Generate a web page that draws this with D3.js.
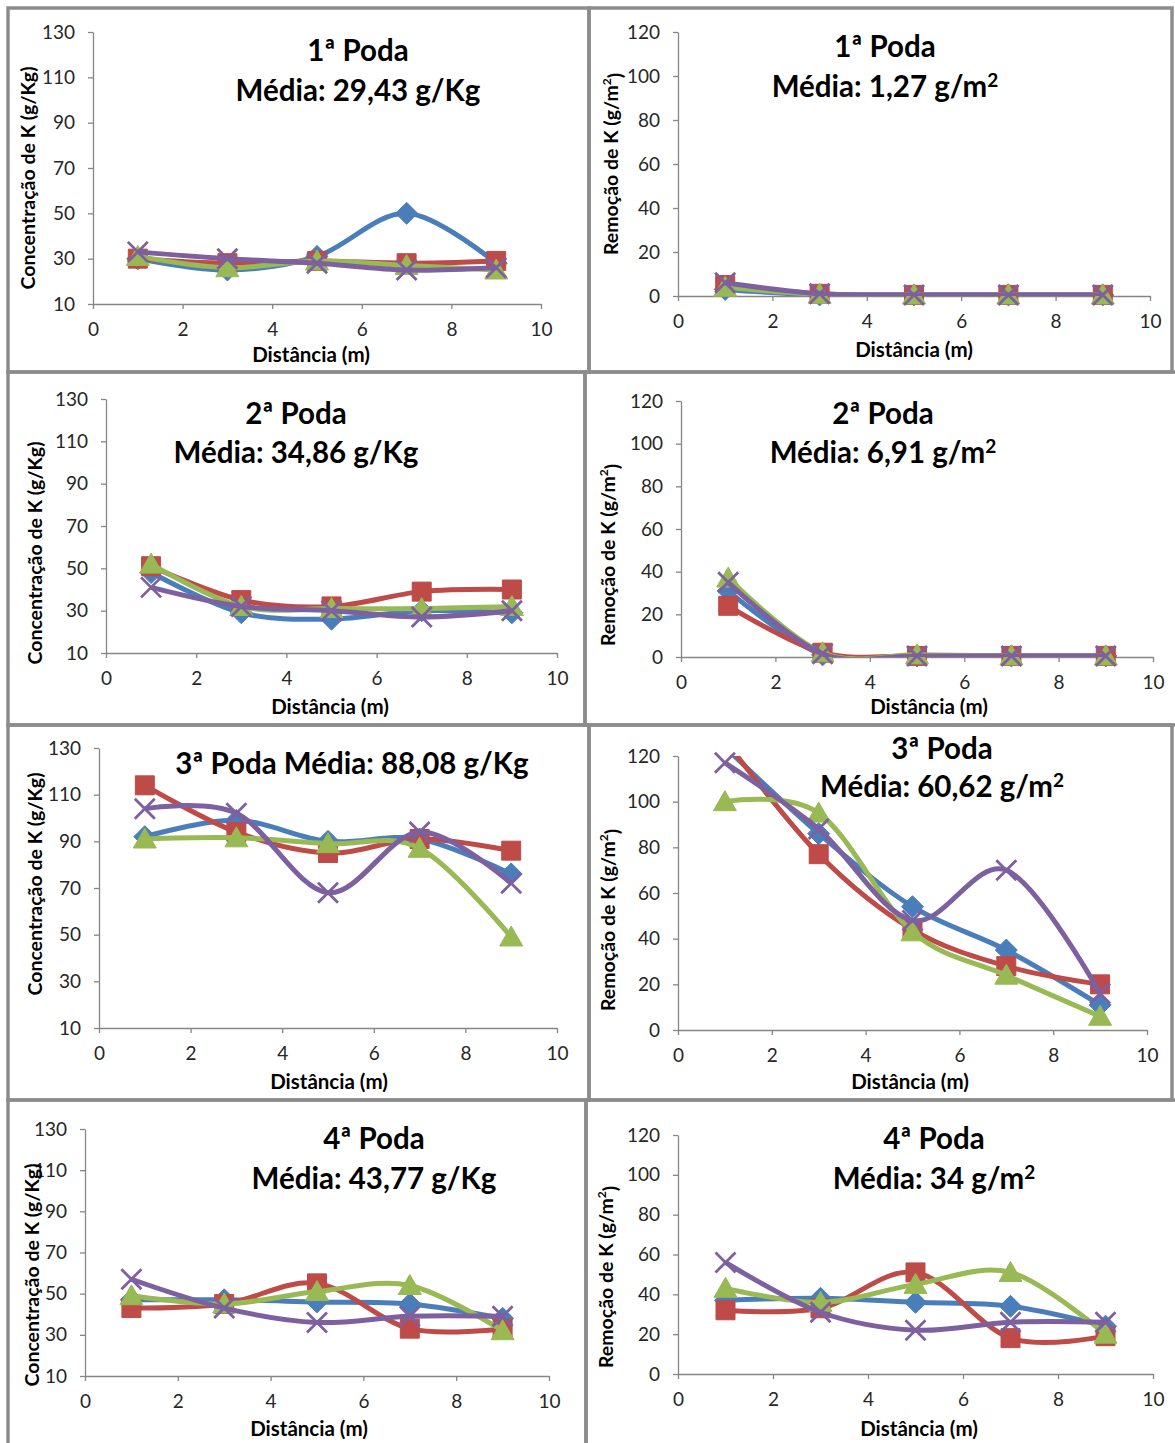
<!DOCTYPE html>
<html>
<head>
<meta charset="utf-8">
<script src="https://cdn.jsdelivr.net/npm/d3@7"></script>
<style>
  body { margin: 0; background: #fff; }
  svg { display: block; font-family: Lato, 'Open Sans', sans-serif; }
</style>
</head>
<body>
<svg id="chart" width="1175" height="1443"></svg>
<script>
// Dados - ordem das séries: azul, vermelho, verde, roxo
const distancias = [1, 3, 5, 7, 9];
const xTicks = [0, 2, 4, 6, 8, 10];
const concTicks = [10, 30, 50, 70, 90, 110, 130];
const remTicks = [0, 20, 40, 60, 80, 100, 120];

const conc1 = [[30, 25, 31, 50, 28], [30, 28, 29, 28, 29], [31, 26, 29, 27, 25], [33, 30, 28, 25, 26]];
const rem1 = [[3, 0.5, 0.5, 0.5, 0.5], [5, 1, 0.5, 0.5, 0.5], [4, 0.8, 0.5, 0.5, 0.5], [6, 1, 0.5, 0.5, 0.5]];
const conc2 = [[48, 29, 26, 30, 29], [51, 35, 32, 39, 40], [52, 32, 31, 31, 32], [41, 32, 30, 27, 30]];
const rem2 = [[31, 1, 0.5, 0.5, 0.5], [24, 2, 0.5, 0.5, 0.5], [37, 2, 1, 0.5, 0.5], [35, 1.5, 0.5, 0.5, 0.5]];
const conc3 = [[92, 99, 90, 91, 76], [114, 94, 85, 91, 86], [91, 91.5, 89, 87, 49], [104, 102, 68, 94, 72]];
const rem3 = [[124, 86, 54, 35, 11], [127, 77, 44, 28, 20], [100, 95, 43, 24, 6], [117, 88, 48, 70, 16]];
const conc4 = [[47, 47, 46, 45, 38], [43, 45, 55, 33, 33], [49, 45, 51, 54, 32], [57, 43, 36, 39, 39]];
const rem4 = [[37, 38, 36, 34, 24], [32, 33, 51, 18, 19], [43, 36, 45, 51, 20], [56, 31, 22, 26, 26]];

const titulos = [
  ['1ª Poda', 'Média: 29,43 g/Kg'],
  ['1ª Poda', 'Média: 1,27 g/m²'],
  ['2ª Poda', 'Média: 34,86 g/Kg'],
  ['2ª Poda', 'Média: 6,91 g/m²'],
  ['3ª Poda Média: 88,08 g/Kg'],
  ['3ª Poda', 'Média: 60,62 g/m²'],
  ['4ª Poda', 'Média: 43,77 g/Kg'],
  ['4ª Poda', 'Média: 34 g/m²']
];

// Estilo das séries
const cores = ['#4A7EBB', '#BE4B48', '#98B954', '#7D60A0'];
const marcadores = ['diamond', 'square', 'triangle', 'x'];

// Posição de cada painel na página (pixels)
const paineis = [
  { dados: conc1, tipo: 'conc', box: [8, 8, 589, 372], x0: 93, x1: 541, yTopo: 32, yBase: 304, tx: 358, ty: [61, 101], xt: [311, 362], yt: [28, 178] },
  { dados: rem1, tipo: 'rem', box: [589, 8, 1172, 372], x0: 678, x1: 1150, yTopo: 32, yBase: 296, tx: 885, ty: [57, 97], xt: [914, 357], yt: [611, 164] },
  { dados: conc2, tipo: 'conc', box: [8, 372, 585, 725], x0: 106, x1: 557, yTopo: 399, yBase: 653, tx: 296, ty: [424, 463], xt: [330, 714], yt: [35, 553] },
  { dados: rem2, tipo: 'rem', box: [585, 372, 1178, 725], x0: 681, x1: 1153, yTopo: 401, yBase: 657, tx: 883, ty: [424, 463], xt: [929, 714], yt: [608, 555] },
  { dados: conc3, tipo: 'conc', box: [8, 725, 589, 1100], x0: 99, x1: 557, yTopo: 748, yBase: 1028, tx: 352, ty: [774], xt: [329, 1089], yt: [35, 884] },
  { dados: rem3, tipo: 'rem', box: [589, 725, 1172, 1100], x0: 678, x1: 1147, yTopo: 756, yBase: 1030, tx: 942, ty: [759, 797], xt: [910, 1089], yt: [608, 920] },
  { dados: conc4, tipo: 'conc', box: [8, 1100, 586, 1450], x0: 85, x1: 549, yTopo: 1129, yBase: 1376, tx: 374, ty: [1149, 1189], xt: [309, 1436], yt: [32, 1275] },
  { dados: rem4, tipo: 'rem', box: [586, 1100, 1180, 1450], x0: 678, x1: 1153, yTopo: 1135, yBase: 1374, tx: 934, ty: [1149, 1189], xt: [919, 1436], yt: [606, 1277] }
];

const svg = d3.select('#chart');
const defs = svg.append('defs');

// Forma dos marcadores centrada em (0,0)
const caminhoMarcador = (tipo) => {
  if (tipo === 'diamond') return 'M0,-11L11,0L0,11L-11,0Z';
  if (tipo === 'square') return 'M-9.5,-9.5h19v19h-19Z';
  if (tipo === 'triangle') return 'M0,-11L11.5,9L-11.5,9Z';
  return 'M-10,-10L10,10M10,-10L-10,10';
};

const desenharPainel = (p, i) => {
  const conc = p.tipo === 'conc';
  const dominio = conc ? [10, 130] : [0, 120];
  const yTicks = conc ? concTicks : remTicks;

  const x = d3.scaleLinear().domain([0, 10]).range([p.x0, p.x1]);
  const y = d3.scaleLinear().domain(dominio).range([p.yBase, p.yTopo]);

  const g = svg.append('g').attr('class', 'painel');

  // Moldura cinza
  g.append('rect')
    .attr('x', p.box[0]).attr('y', p.box[1])
    .attr('width', p.box[2] - p.box[0]).attr('height', p.box[3] - p.box[1])
    .attr('fill', 'none').attr('stroke', '#8c8c8c').attr('stroke-width', 3.5);

  // Eixos
  const eixoX = g.append('g')
    .attr('transform', `translate(0,${p.yBase})`)
    .call(d3.axisBottom(x).tickValues(xTicks).tickSize(5).tickSizeOuter(0).tickPadding(14));
  const eixoY = g.append('g')
    .attr('transform', `translate(${p.x0},0)`)
    .call(d3.axisLeft(y).tickValues(yTicks).tickSize(5).tickSizeOuter(0).tickPadding(13));

  [eixoX, eixoY].forEach(e => {
    e.select('.domain').attr('stroke', '#868686').attr('stroke-width', 1.3);
    e.selectAll('.tick line').attr('stroke', '#868686').attr('stroke-width', 1.3);
    e.selectAll('.tick text').attr('fill', '#262626').attr('font-size', 19).attr('font-family', 'Lato');
  });

  // Recorte das linhas à área do gráfico
  const clipId = 'clip' + i;
  defs.append('clipPath').attr('id', clipId).append('rect')
    .attr('x', p.x0).attr('y', p.yTopo)
    .attr('width', p.x1 - p.x0).attr('height', p.yBase - p.yTopo);

  const linha = d3.line()
    .x((d, j) => x(distancias[j]))
    .y(d => y(d))
    .curve(d3.curveCatmullRom.alpha(0));

  p.dados.forEach((serie, s) => {
    g.append('path')
      .datum(serie)
      .attr('d', linha)
      .attr('fill', 'none')
      .attr('stroke', cores[s])
      .attr('stroke-width', 5)
      .attr('stroke-linejoin', 'round')
      .attr('clip-path', `url(#${clipId})`);

    const pontos = serie
      .map((v, j) => ({ v, d: distancias[j] }))
      .filter(pt => pt.v >= dominio[0] - 1 && pt.v <= dominio[1]);

    const tipo = marcadores[s];
    g.append('g').selectAll('path')
      .data(pontos)
      .enter()
      .append('path')
      .attr('transform', pt => `translate(${x(pt.d)},${y(pt.v)})`)
      .attr('d', caminhoMarcador(tipo))
      .attr('fill', tipo === 'x' ? 'none' : cores[s])
      .attr('stroke', cores[s])
      .attr('stroke-width', tipo === 'x' ? 2.8 : 1);
  });

  // Título (o "²" vira tspan para ficar maior, como no original)
  const linhas = titulos[i];
  linhas.forEach((t, k) => {
    const txt = g.append('text')
      .attr('x', p.tx).attr('y', p.ty[k])
      .attr('text-anchor', 'middle')
      .attr('font-size', 29.5).attr('font-weight', 'bold')
      .attr('fill', '#000');
    const partes = t.split('²');
    txt.append('tspan').text(partes[0]);
    if (partes.length > 1) {
      txt.append('tspan').attr('font-size', 19).attr('dy', '-0.55em').text('2');
    }
  });

  // Título do eixo X
  g.append('text')
    .attr('x', p.xt[0]).attr('y', p.xt[1])
    .attr('text-anchor', 'middle')
    .attr('font-size', 20.5).attr('font-weight', 'bold')
    .text('Distância (m)');

  // Título do eixo Y (rotacionado)
  const ty = g.append('text')
    .attr('transform', `translate(${p.yt[0]},${p.yt[1]}) rotate(-90)`)
    .attr('text-anchor', 'middle')
    .attr('dy', '0.35em')
    .attr('font-size', 19.5).attr('font-weight', 'bold');
  if (conc) {
    ty.text('Concentração de K (g/Kg)');
  } else {
    ty.append('tspan').text('Remoção de K (g/m');
    ty.append('tspan').attr('font-size', 12).attr('dy', '-0.6em').text('2');
    ty.append('tspan').attr('dy', '0.6em').text(')');
  }
};

paineis.forEach(desenharPainel);
</script>
</body>
</html>
